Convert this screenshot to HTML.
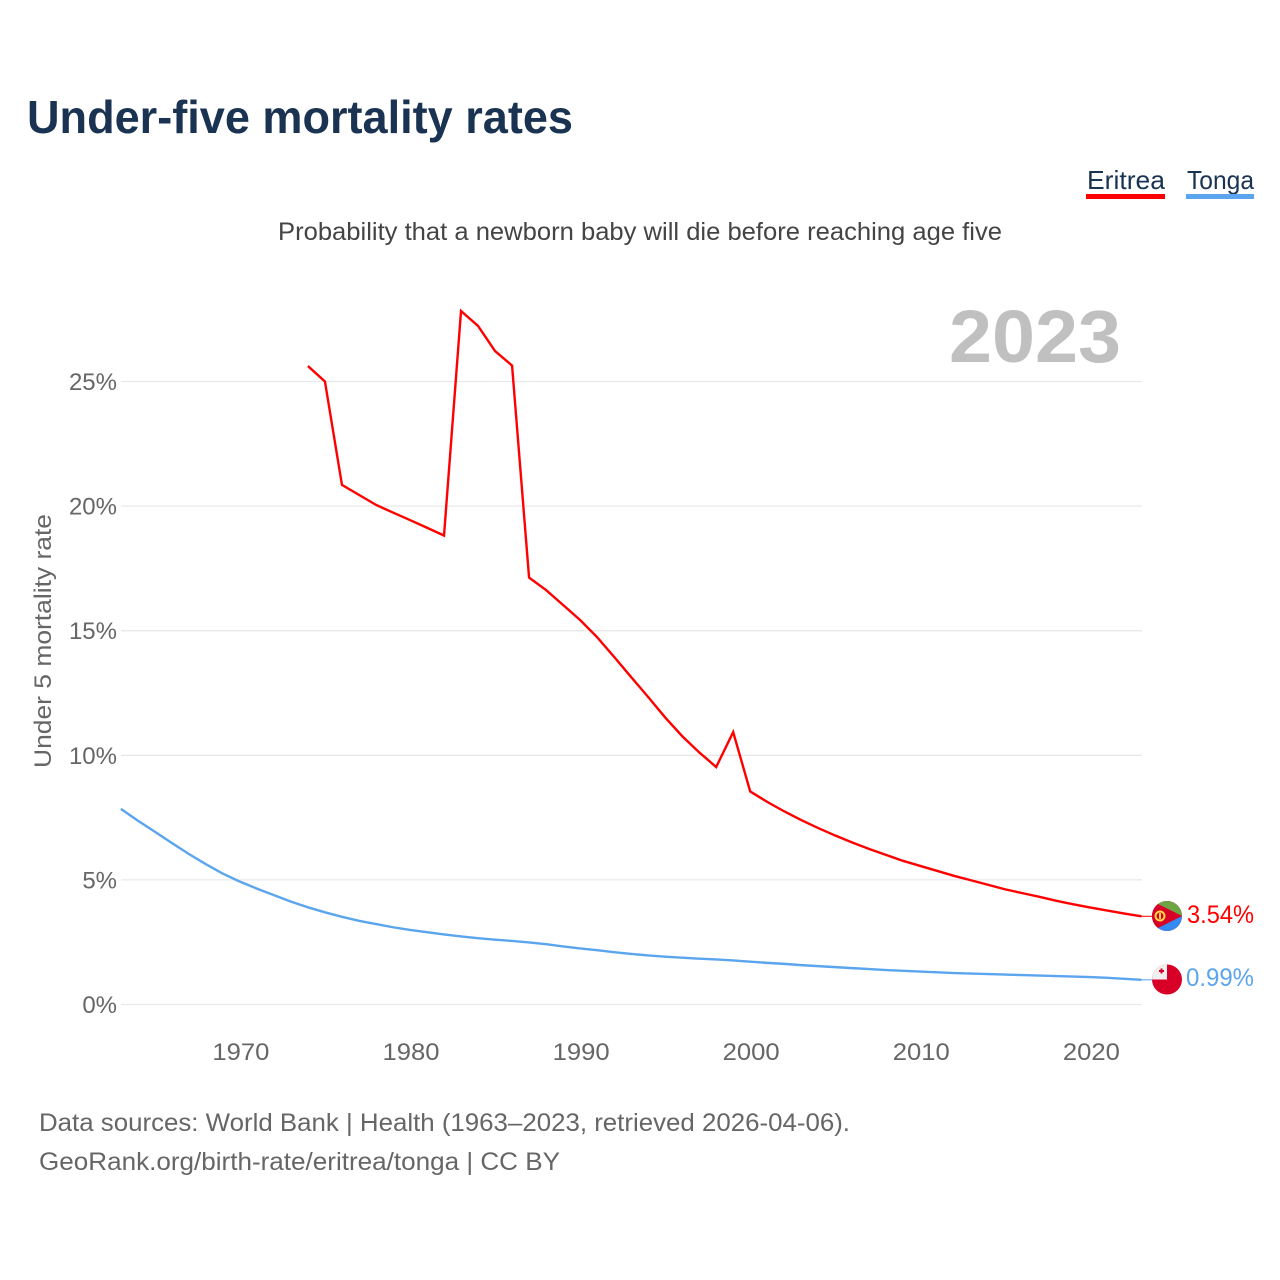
<!DOCTYPE html>
<html lang="en">
<head>
<meta charset="utf-8">
<title>Under-five mortality rates</title>
<style>
html,body{margin:0;padding:0;background:#fff;}
svg{display:block;font-family:"Liberation Sans",sans-serif;}
</style>
</head>
<body>
<svg id="chart" xmlns="http://www.w3.org/2000/svg" width="1280" height="1280" viewBox="0 0 1280 1280">
<defs>
<clipPath id="flag-clip-er"><circle cx="1167" cy="916" r="15"/></clipPath>
<clipPath id="flag-clip-to"><circle cx="1167" cy="979.5" r="15"/></clipPath>
</defs>
<text x="27" y="133" font-size="46" font-weight="700" fill="#1a3352" textLength="546" lengthAdjust="spacingAndGlyphs">Under-five mortality rates</text>
<g>
<g>
<text x="1087" y="189" font-size="26" fill="#1a3352" textLength="78" lengthAdjust="spacingAndGlyphs">Eritrea</text>
<rect x="1086" y="194" width="79" height="5" fill="#ff0000"/>
</g>
<g>
<text x="1187" y="189" font-size="26" fill="#1a3352" textLength="67" lengthAdjust="spacingAndGlyphs">Tonga</text>
<rect x="1186" y="194" width="68" height="5" fill="#5ba5ee"/>
</g>
</g>
<text x="278" y="240" font-size="25" fill="#444444" textLength="724" lengthAdjust="spacingAndGlyphs">Probability that a newborn baby will die before reaching age five</text>
<text x="949" y="362" font-size="74" font-weight="700" fill="#c0c0c0" textLength="172" lengthAdjust="spacingAndGlyphs">2023</text>
<g id="grid"></g>
<g id="y-ticks"></g>
<g id="x-ticks"></g>
<text transform="translate(51,768) rotate(-90)" x="0" y="0" font-size="24" fill="#666666" textLength="254" lengthAdjust="spacingAndGlyphs">Under 5 mortality rate</text>
<g id="series"></g>
<g clip-path="url(#flag-clip-er)">
<rect x="1152" y="901" width="30" height="30" fill="#d80027"/>
<polygon points="1152,901 1182,901 1182,916 1152,902" fill="#6da544"/>
<polygon points="1152,931 1182,931 1182,916 1152,930" fill="#338af3"/>
<polygon points="1152,901 1182,916 1152,931" fill="#d80027"/>
<circle cx="1160" cy="916" r="4.5" fill="none" stroke="#ffda44" stroke-width="2"/>
<rect x="1159" y="913" width="2" height="6" fill="#ffda44"/>
</g>
<g clip-path="url(#flag-clip-to)">
<rect x="1152" y="964" width="30" height="31" fill="#d80027"/>
<rect x="1152" y="964" width="15" height="15.5" fill="#f0f0f0"/>
<rect x="1159" y="970" width="5" height="2" fill="#d80027"/>
<rect x="1160.500" y="968.500" width="2" height="5" fill="#d80027"/>
</g>
<text id="end-er" x="1187" y="923" font-size="25" fill="#ff0000" textLength="67" lengthAdjust="spacingAndGlyphs"></text>
<text id="end-to" x="1186" y="986" font-size="25" fill="#5ba5ee" textLength="68" lengthAdjust="spacingAndGlyphs"></text>
<g>
<text x="39" y="1131" font-size="25" fill="#666666" textLength="811" lengthAdjust="spacingAndGlyphs">Data sources: World Bank | Health (1963–2023, retrieved 2026-04-06).</text>
<text x="39" y="1170" font-size="25" fill="#666666" textLength="521" lengthAdjust="spacingAndGlyphs">GeoRank.org/birth-rate/eritrea/tonga | CC BY</text>
</g>
</svg>
<script>
const yTickValues = [0, 5, 10, 15, 20, 25];
const xTickYears = [1970, 1980, 1990, 2000, 2010, 2020];
const tongaStartYear = 1963;
const tongaValues = [7.85,7.38,6.93,6.48,6.04,5.63,5.25,4.93,4.65,4.39,4.13,3.90,3.70,3.52,3.36,3.23,3.10,2.99,2.90,2.81,2.73,2.66,2.60,2.55,2.49,2.42,2.33,2.25,2.18,2.10,2.03,1.97,1.92,1.88,1.84,1.81,1.77,1.72,1.67,1.63,1.58,1.54,1.50,1.46,1.42,1.38,1.35,1.32,1.29,1.26,1.24,1.22,1.20,1.18,1.16,1.14,1.12,1.10,1.07,1.03,0.99];
const eritreaStartYear = 1974;
const eritreaValues = [25.62,25.0,20.85,20.45,20.05,19.74,19.44,19.13,18.82,27.83,27.23,26.22,25.64,17.13,16.63,16.03,15.43,14.74,13.95,13.14,12.34,11.52,10.77,10.12,9.53,10.93,8.55,8.13,7.75,7.4,7.08,6.78,6.5,6.24,6.0,5.76,5.56,5.36,5.16,4.98,4.8,4.62,4.47,4.32,4.16,4.02,3.89,3.77,3.65,3.54];

const NS = 'http://www.w3.org/2000/svg';
const xScale = function (year) { return 239.9 + (year - 1970) * 17.01; };
const yScale = function (v) { return 1004.5 - v * 24.92; };

function make(tag, parent, attrs) {
  const el = document.createElementNS(NS, tag);
  Object.keys(attrs).forEach(function (k) { el.setAttribute(k, attrs[k]); });
  parent.appendChild(el);
  return el;
}

const gridGroup = document.getElementById('grid');
const yTickGroup = document.getElementById('y-ticks');
yTickValues.forEach(function (v) {
  const line = make('line', gridGroup, { x1: 121, x2: 1142, y1: yScale(v), y2: yScale(v), stroke: '#e8e8e8', 'stroke-width': 1.3 });
  
  
  const label = make('text', yTickGroup, { x: 117, y: yScale(v) + 8.5, 'font-size': 24, fill: '#666666', 'text-anchor': 'end' });
  
  
  label.textContent = v + '%';
});

const xTickGroup = document.getElementById('x-ticks');
xTickYears.forEach(function (year) {
  const label = make('text', xTickGroup, { x: xScale(year) + 1, y: 1060, 'font-size': 24, fill: '#666666', 'text-anchor': 'middle', textLength: 57, lengthAdjust: 'spacingAndGlyphs' });
  
  
  label.textContent = year;
});

function pointsFor(startYear, values) {
  return values.map(function (v, i) { return xScale(startYear + i).toFixed(2) + ',' + yScale(v).toFixed(2); }).join(' ');
}

const seriesGroup = document.getElementById('series');
const tongaLine = make('polyline', seriesGroup, { points: pointsFor(tongaStartYear, tongaValues), fill: 'none', stroke: '#5ba5ee', 'stroke-width': 2.4, 'stroke-linejoin': 'round' });


const eritreaLine = make('polyline', seriesGroup, { points: pointsFor(eritreaStartYear, eritreaValues), fill: 'none', stroke: '#ff0000', 'stroke-width': 2.4, 'stroke-linejoin': 'miter' });



const lastEritrea = eritreaValues[eritreaValues.length - 1];
const lastTonga = tongaValues[tongaValues.length - 1];
const eritreaLeader = make('line', seriesGroup, { x1: xScale(2023), x2: 1152, y1: yScale(lastEritrea), y2: yScale(lastEritrea), stroke: '#ff0000', 'stroke-width': 1 });


const tongaLeader = make('line', seriesGroup, { x1: xScale(2023), x2: 1152, y1: yScale(lastTonga), y2: yScale(lastTonga), stroke: '#5ba5ee', 'stroke-width': 1 });


document.getElementById('end-er').textContent = lastEritrea.toFixed(2) + '%';
document.getElementById('end-to').textContent = lastTonga.toFixed(2) + '%';
</script>
</body>
</html>
